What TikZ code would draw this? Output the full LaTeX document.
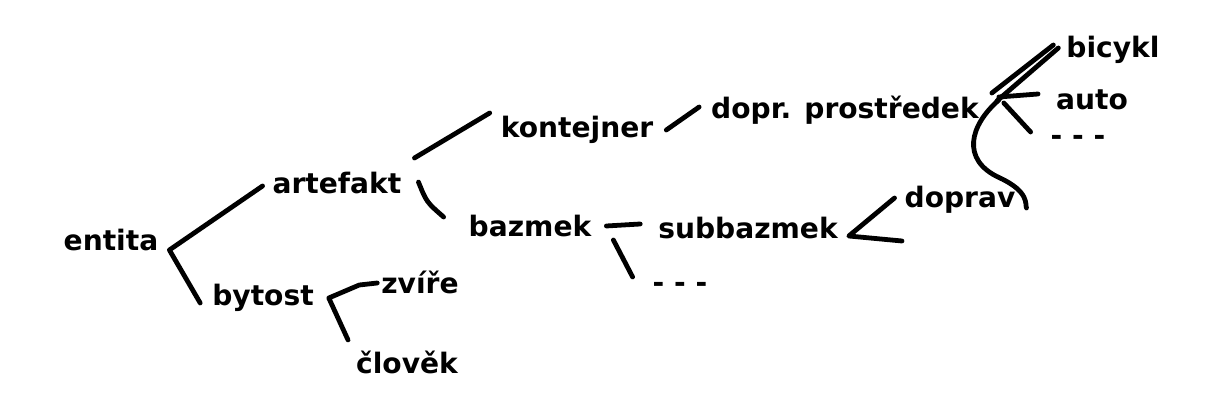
\documentclass[tikz,border=0pt]{standalone}
\usepackage{fontspec}
\setmainfont{DejaVu Sans}
\usetikzlibrary{calc}
\tikzset{
    x=0.025cm, y=-0.025cm, % one unit = one pixel of the sketch
    word/.style={inner sep=2pt, font=\fontsize{20}{24}\selectfont\bfseries}, % handwritten terms
    branch/.style={line width=3.4pt, line cap=round, line join=round}, % pen strokes
}
\begin{document}
\begin{tikzpicture}
    \useasboundingbox (0,0) rectangle (1212,411);

    \node[word] (entita) at (111,240) {entita};
    \node[word] (artefakt) at (337,183) {artefakt};
    \node[word] (bytost) at (263,298) {bytost};
    \node[word] (zvire) at (420,282) {zvíře};
    \node[word] (clovek) at (407,362) {člověk};
    \node[word] (kontejner) at (577,130) {kontejner};
    \node[word] (bazmek) at (530,226) {bazmek};
    \node[word] (subbazmek) at (748,228) {subbazmek};
    \node[word] (dotsA) at (680,287) {- - -};
    \node[word] (prostredek) at (845,110) {dopr. prostředek};
    \node[word] (bicykl) at (1113,50) {bicykl};
    \node[word] (auto) at (1092,100) {auto};
    \node[word] (dotsB) at (1078,140) {- - -};
    \node[word] (doprav) at (960,200) {doprav};

    % fork points
    \coordinate (fEntita) at ($(entita.east)+(8,10)$);
    \coordinate (fBytost) at ($(bytost.east)+(12,0)$);
    \coordinate (fBazmek) at ($(bazmek.east)+(12,0)$);
    \coordinate (fDopr) at ($(prostredek.east)+(12,-13)$);
    \coordinate (fSub) at ($(subbazmek.east)+(8,8)$);
    \coordinate (open) at (902,241);

    \draw[branch] ($(artefakt.west)+(-7,3)$) -- (fEntita) -- ($(bytost.west)+(-9,5)$);
    \draw[branch] ($(artefakt.east)+(10,-25)$) -- ($(kontejner.west)+(-8,-17)$);
    \draw[branch] ($(artefakt.east)+(14,-1)$) .. controls +(8,20) .. ($(bazmek.west)+(-22,-9)$);
    \draw[branch] ($(zvire.west)+(-1,1)$) -- +(-18,2) -- (fBytost) -- ($(clovek.west)+(-5,-22)$);
    \draw[branch] ($(kontejner.east)+(10,0)$) -- ($(prostredek.west)+(-9,-3)$);
    \draw[branch] (fBazmek) -- ($(subbazmek.west)+(-15,-4)$);
    \draw[branch] ($(fBazmek)+(7,14)$) -- ($(dotsA.west)+(-17,-10)$);
    \draw[branch] ($(fDopr)+(-2,-4)$) -- ($(bicykl.west)+(-10,-5)$);
    \draw[branch] ($(fDopr)+(3,4)$) -- ($(bicykl.west)+(-5,-2)$);
    \draw[branch] ($(fDopr)+(5,0)$) -- ($(auto.west)+(-15,-6)$);
    \draw[branch] ($(fDopr)+(10,6)$) -- ($(dotsB.west)+(-17,-8)$);
    \draw[branch] ($(fDopr)+(5,3)$) .. controls (970,125) and (960,160) .. (1000,178)
        .. controls (1030,192) and (1025,205) .. ($(doprav.east)+(8,8)$);
    \draw[branch] ($(doprav.west)+(-7,-2)$) -- (fSub) -- (open);
\end{tikzpicture}
\end{document}
